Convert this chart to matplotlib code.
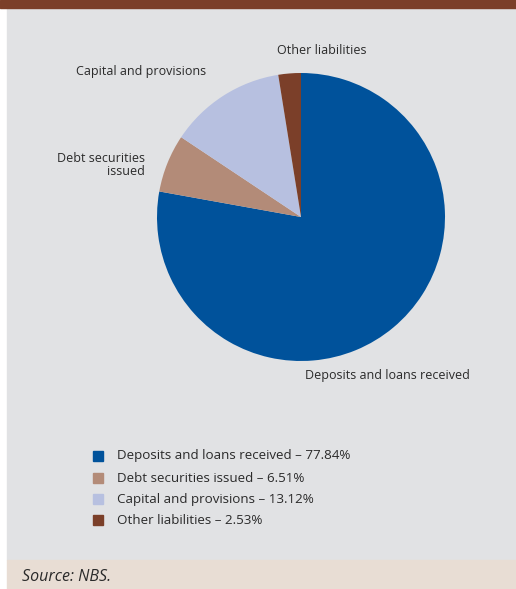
import matplotlib.pyplot as plt
from matplotlib.patches import Rectangle

categories = ['Deposits and loans received', 'Debt securities issued',
              'Capital and provisions', 'Other liabilities']
shares = [77.84, 6.51, 13.12, 2.53]
colors = ['#00529b', '#b38b78', '#b7c0e0', '#7b3f29']
pie_labels = ['Deposits and loans received', 'Debt securities\nissued',
              'Capital and provisions', 'Other liabilities']

plt.rcParams['font.family'] = ['Open Sans', 'DejaVu Sans']

W, H = 516, 589
fig = plt.figure(figsize=(W / 100, H / 100), dpi=100)
fig.patch.set_facecolor('white')

# background panels (figure pixel coords, y from top)
def px_rect(x0, y0, x1, y1, c, z=-10):
    fig.patches.append(Rectangle((x0 / W, 1 - y1 / H), (x1 - x0) / W, (y1 - y0) / H,
                                 transform=fig.transFigure, color=c, zorder=z))

px_rect(7, 8, W, 560, '#e1e2e4')
px_rect(7, 560, W, H, '#e8ddd4')
px_rect(0, 0, W, 8, '#7b3f29')

# pie: centre (301, 217), radius 144 px
r = 144
cx, cy = 301, 217
ax = fig.add_axes([(cx - r) / W, 1 - (cy + r) / H, 2 * r / W, 2 * r / H])
ax.set_zorder(5)
ax.pie(shares, colors=colors, startangle=90, counterclock=False,
       wedgeprops=dict(linewidth=0))
ax.set_xlim(-1, 1)
ax.set_ylim(-1, 1)
ax.set_aspect('auto')
ax.axis('off')

def fig_text(x, y, s, **kw):
    fig.text(x / W, 1 - y / H, s, fontsize=9, color='#2a2a2a', va='center', **kw)

fig_text(322, 50, pie_labels[3], ha='center')
fig_text(141, 72, pie_labels[2], ha='center')
fig_text(145, 165, pie_labels[1], ha='right', multialignment='right', linespacing=1.05)
fig_text(387, 375, pie_labels[0], ha='center')

# legend
rows = [456, 478, 499, 520]
for cat, val, c, y in zip(categories, shares, colors, rows):
    px_rect(93, y - 5, 103, y + 5, c, z=2)
    fig.text(117 / W, 1 - y / H, f'{cat} – {val:.2f}%', fontsize=9.6,
             color='#2a2a2a', va='center')

fig.text(22 / W, 1 - 577 / H, 'Source: NBS.', fontsize=11.5, style='italic',
         color='#2a2a2a', va='center')

fig.savefig('out.png', dpi=100)
